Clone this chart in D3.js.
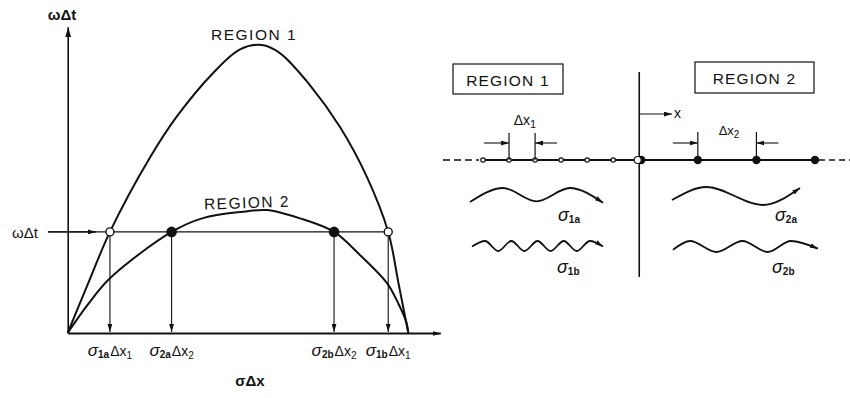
<!DOCTYPE html>
<html>
<head>
<meta charset="utf-8">
<script src="https://cdn.jsdelivr.net/npm/d3@7"></script>
<style>
  html, body { margin: 0; padding: 0; background: #fff; }
  svg { display: block; }
  text { font-family: "Liberation Sans", Arial, sans-serif; fill: #111; }
</style>
</head>
<body>
<svg id="chart" width="850" height="398"></svg>
<script>
// Dispersion curves: normalised sigma*dx (0..1) against normalised omega*dt (peak of region 1 = 1)
const region1SigmaDx = [0, 0.06, 0.124, 0.242, 0.320, 0.427, 0.506, 0.570, 0.623, 0.711, 0.799, 0.878, 0.941, 0.971, 1.0];
const region1OmegaDt = [0, 0.172, 0.351, 0.610, 0.751, 0.903, 0.985, 1.0, 0.972, 0.861, 0.716, 0.543, 0.351, 0.174, 0];
const region2SigmaDx = [0, 0.06, 0.124, 0.305, 0.397, 0.515, 0.584, 0.682, 0.782, 0.858, 0.937, 0.970, 0.995, 1.0];
const region2OmegaDt = [0, 0.100, 0.190, 0.351, 0.399, 0.421, 0.427, 0.398, 0.351, 0.271, 0.174, 0.104, 0.035, 0];

// Chosen frequency and the wavenumbers it meets on each curve
const omegaDtLevel = 0.351;
const crossingSigmaDx = [0.124, 0.305, 0.782, 0.941];
const crossingRegion = [1, 2, 2, 1];
const crossingSub = ["1a", "2a", "2b", "1b"];
const crossingDxSub = ["1", "2", "2", "1"];

// Grid nodes on either side of the interface (units of dx1)
const region1Nodes = [-6, -5, -4, -3, -2, -1, 0];
const region2Nodes = [0, 2.25, 4.5, 6.75];
const dx1Marks = [-5, -4];
const dx2Marks = [2.25, 4.5];

// Wave sketches: turning points along each wave (t from 0..1, v from -1..1)
const waveNames = ["1a", "1b", "2a", "2b"];
const waveT = [
  [0, 0.25, 0.5, 0.75, 1],
  [0, 0.1, 0.2, 0.3, 0.4, 0.5, 0.6, 0.7, 0.8, 0.9, 1],
  [0, 0.27, 0.71, 1],
  [0, 0.118, 0.299, 0.479, 0.653, 0.813, 1]
];
const waveV = [
  [-1, 1, -0.9, 1, -1.1],
  [-0.1, 1, -1, 1, -1, 1, -1, 1, -1, 1, -0.1],
  [-0.45, 1, -1, 0.9],
  [-0.6, 1, -1, 1, -1, 1, -0.4]
];

const svg = d3.select("#chart");
const ink = "#111";

// Arrowhead markers
const defs = svg.append("defs");
defs.append("marker")
  .attr("id", "arrow")
  .attr("viewBox", "0 -3 10 6")
  .attr("markerUnits", "userSpaceOnUse")
  .attr("markerWidth", 10).attr("markerHeight", 6)
  .attr("refX", 10).attr("refY", 0)
  .attr("orient", "auto")
  .append("path").attr("d", "M0,-3L10,0L0,3Z").attr("fill", ink);
defs.append("marker")
  .attr("id", "arrowSmall")
  .attr("viewBox", "0 -3 10 6")
  .attr("markerUnits", "userSpaceOnUse")
  .attr("markerWidth", 8).attr("markerHeight", 5)
  .attr("refX", 10).attr("refY", 0)
  .attr("orient", "auto")
  .append("path").attr("d", "M0,-3L10,0L0,3Z").attr("fill", ink);

// ---------- Left panel: dispersion diagram ----------
const x = d3.scaleLinear().domain([0, 1]).range([67.7, 408.3]);
const y = d3.scaleLinear().domain([0, 1]).range([333, 45]);
const xAxisScale = d3.scaleLinear().domain([0, 1.094]).range([x(0), x(1.094)]);
const yAxisScale = d3.scaleLinear().domain([0, 1.063]).range([y(0), y(1.063)]);

const left = svg.append("g");

const gx = left.append("g").attr("transform", `translate(0,${y(0)})`)
  .call(d3.axisBottom(xAxisScale).tickValues([]).tickSizeOuter(0));
gx.select(".domain").attr("stroke", ink).attr("stroke-width", 2).attr("marker-end", "url(#arrowSmall)");

const gy = left.append("g").attr("transform", `translate(${x(0)},0)`)
  .call(d3.axisLeft(yAxisScale).tickValues([]).tickSizeOuter(0));
gy.select(".domain").attr("stroke", ink).attr("stroke-width", 1.6).attr("marker-end", "url(#arrow)");

const curve = d3.line().x(d => x(d[0])).y(d => y(d[1])).curve(d3.curveCatmullRom.alpha(0.5));
left.append("path")
  .attr("d", curve(d3.zip(region1SigmaDx, region1OmegaDt)))
  .attr("fill", "none").attr("stroke", ink).attr("stroke-width", 2);
left.append("path")
  .attr("d", curve(d3.zip(region2SigmaDx, region2OmegaDt)))
  .attr("fill", "none").attr("stroke", ink).attr("stroke-width", 2);

// Horizontal frequency line with incoming arrow
left.append("line")
  .attr("x1", x(-0.058)).attr("x2", x(crossingSigmaDx[0]) - 4)
  .attr("y1", y(omegaDtLevel)).attr("y2", y(omegaDtLevel))
  .attr("stroke", ink).attr("stroke-width", 1.1);
left.append("line")
  .attr("x1", x(-0.058)).attr("x2", x(0.083))
  .attr("y1", y(omegaDtLevel)).attr("y2", y(omegaDtLevel))
  .attr("stroke", ink).attr("stroke-width", 1.1).attr("marker-end", "url(#arrowSmall)");
left.append("line")
  .attr("x1", x(crossingSigmaDx[0])).attr("x2", x(crossingSigmaDx[3]))
  .attr("y1", y(omegaDtLevel)).attr("y2", y(omegaDtLevel))
  .attr("stroke", ink).attr("stroke-width", 1.1);

// Drop lines from each crossing down to the sigma*dx axis
left.selectAll(".drop").data(crossingSigmaDx).join("line")
  .attr("class", "drop")
  .attr("x1", d => x(d)).attr("x2", d => x(d))
  .attr("y1", y(omegaDtLevel)).attr("y2", y(0) - 1)
  .attr("stroke", ink).attr("stroke-width", 1.1)
  .attr("marker-end", "url(#arrowSmall)");

// Crossing markers: open for region 1, filled for region 2
left.selectAll(".cross").data(d3.zip(crossingSigmaDx, crossingRegion)).join("circle")
  .attr("class", "cross")
  .attr("cx", d => x(d[0])).attr("cy", y(omegaDtLevel))
  .attr("r", d => d[1] === 1 ? 4 : 4.6)
  .attr("fill", d => d[1] === 1 ? "#fff" : ink)
  .attr("stroke", ink).attr("stroke-width", 1.4);

// Crossing labels  sigma_{..} dx_{..}
const labs = left.selectAll(".xlab").data(d3.range(crossingSigmaDx.length)).join("text")
  .attr("class", "xlab")
  .attr("x", i => x(crossingSigmaDx[i]))
  .attr("y", 356)
  .attr("text-anchor", "middle")
  .attr("font-size", 17);
labs.append("tspan").text("σ").attr("font-style", "italic");
labs.append("tspan").text(i => crossingSub[i]).attr("font-size", 10).attr("font-weight", "bold").attr("dy", 2);
labs.append("tspan").text("Δx").attr("font-size", 14).attr("dx", 1).attr("dy", -2);
labs.append("tspan").text(i => crossingDxSub[i]).attr("font-size", 10).attr("dy", 3);

left.append("text").attr("x", 250).attr("y", 386).attr("text-anchor", "middle")
  .attr("font-size", 15).attr("font-weight", "bold").text("σΔx");
left.append("text").attr("x", 62).attr("y", 20).attr("text-anchor", "middle")
  .attr("font-size", 15).attr("font-weight", "bold").text("ωΔt");
left.append("text").attr("x", 25).attr("y", 238).attr("text-anchor", "middle")
  .attr("font-size", 15).text("ωΔt");

left.append("text").attr("x", 211).attr("y", 40)
  .attr("font-size", 15.5).attr("letter-spacing", 1.5).text("REGION  1");
left.append("text").attr("x", 204).attr("y", 208)
  .attr("font-size", 15.5).attr("letter-spacing", 1.5)
  .attr("transform", "rotate(-2 250 204)").text("REGION  2");

// ---------- Right panel: grid across the interface ----------
const xs = d3.scaleLinear().domain([-6, 6.75]).range([483, 815]);
const lineY = 160;
const right = svg.append("g");

// Region boxes
const boxes = [
  { label: "REGION  1", x0: 453, y0: 64, w: 110, h: 30 },
  { label: "REGION  2", x0: 695, y0: 62, w: 119, h: 31 }
];
boxes.forEach(b => {
  right.append("rect").attr("x", b.x0).attr("y", b.y0).attr("width", b.w).attr("height", b.h)
    .attr("fill", "none").attr("stroke", ink).attr("stroke-width", 1.2);
  right.append("text").attr("x", b.x0 + b.w / 2).attr("y", b.y0 + 22)
    .attr("text-anchor", "middle").attr("font-size", 15.5).attr("letter-spacing", 1.2).text(b.label);
});

// Interface line
right.append("line").attr("x1", xs(0)).attr("x2", xs(0)).attr("y1", 72).attr("y2", 277)
  .attr("stroke", ink).attr("stroke-width", 1.6);

// x direction arrow
right.append("line").attr("x1", xs(0)).attr("x2", 672).attr("y1", 114).attr("y2", 114)
  .attr("stroke", ink).attr("stroke-width", 1.2).attr("marker-end", "url(#arrowSmall)");
right.append("text").attr("x", 674).attr("y", 118).attr("font-size", 14).text("x");

// Grid line: dashed continuation on both ends
right.append("line").attr("x1", 443).attr("x2", xs(-6) - 4).attr("y1", lineY).attr("y2", lineY)
  .attr("stroke", ink).attr("stroke-width", 1.3).attr("stroke-dasharray", "7,4");
right.append("line").attr("x1", xs(6.75) + 4).attr("x2", 850).attr("y1", lineY).attr("y2", lineY)
  .attr("stroke", ink).attr("stroke-width", 1.3).attr("stroke-dasharray", "6,4");
right.append("line").attr("x1", xs(-6)).attr("x2", xs(6.75)).attr("y1", lineY).attr("y2", lineY)
  .attr("stroke", ink).attr("stroke-width", 1.8);

// Nodes
right.selectAll(".n2").data(region2Nodes).join("circle").attr("class", "n2")
  .attr("cx", d => d === 0 ? xs(d) + 2 : xs(d)).attr("cy", lineY).attr("r", 4.2).attr("fill", ink);
right.selectAll(".n1").data(region1Nodes).join("circle").attr("class", "n1")
  .attr("cx", d => d === 0 ? xs(d) - 1.5 : xs(d)).attr("cy", lineY)
  .attr("r", d => d === 0 ? 3.5 : 2.2)
  .attr("fill", "#fff").attr("stroke", ink).attr("stroke-width", 1.2);

// Spacing marks
function spacingMarks(marks, yTop, label, sub, labelX, labelY, fs) {
  right.selectAll(null).data(marks).join("line")
    .attr("x1", d => xs(d)).attr("x2", d => xs(d)).attr("y1", yTop).attr("y2", lineY)
    .attr("stroke", ink).attr("stroke-width", 1.2);
  const a = xs(marks[0]), b = xs(marks[1]);
  right.append("line").attr("x1", a - 25).attr("x2", a).attr("y1", 143).attr("y2", 143)
    .attr("stroke", ink).attr("stroke-width", 1.1).attr("marker-end", "url(#arrowSmall)");
  right.append("line").attr("x1", b + 22).attr("x2", b).attr("y1", 143).attr("y2", 143)
    .attr("stroke", ink).attr("stroke-width", 1.1).attr("marker-end", "url(#arrowSmall)");
  const t = right.append("text").attr("x", labelX).attr("y", labelY)
    .attr("text-anchor", "middle").attr("font-size", fs);
  t.append("tspan").text(label);
  t.append("tspan").text(sub).attr("font-size", fs - 3).attr("dy", 3);
}
spacingMarks(dx1Marks, 133, "Δx", "1", 525, 125, 14);
spacingMarks(dx2Marks, 132, "Δx", "2", 729, 135, 13);

// Waves in each region
const waveBox = [
  { x0: 470, x1: 603, cy: 195, amp: 7 },
  { x0: 472, x1: 603, cy: 246, amp: 5 },
  { x0: 672, x1: 800, cy: 196, amp: 9 },
  { x0: 673, x1: 818, cy: 246.5, amp: 5.5 }
];
const waveLine = d3.line().curve(d3.curveMonotoneX);
waveNames.forEach((name, i) => {
  const bx = waveBox[i];
  const wx = d3.scaleLinear().domain([0, 1]).range([bx.x0, bx.x1]);
  const wy = d3.scaleLinear().domain([-1, 1]).range([bx.cy + bx.amp, bx.cy - bx.amp]);
  const pts = waveT[i].map((t, k) => [wx(t), wy(waveV[i][k])]);
  right.append("path").attr("d", waveLine(pts))
    .attr("fill", "none").attr("stroke", ink).attr("stroke-width", 1.8)
    .attr("marker-end", "url(#arrowSmall)");
});

// Wave labels
const waveLabelPos = [[558, 221], [557, 273], [775, 221], [772, 273]];
waveNames.forEach((name, i) => {
  const t = right.append("text").attr("x", waveLabelPos[i][0]).attr("y", waveLabelPos[i][1]).attr("font-size", 18);
  t.append("tspan").text("σ").attr("font-style", "italic");
  t.append("tspan").text(name).attr("font-size", 10).attr("font-weight", "bold").attr("dy", 2);
});
</script>
</body>
</html>
